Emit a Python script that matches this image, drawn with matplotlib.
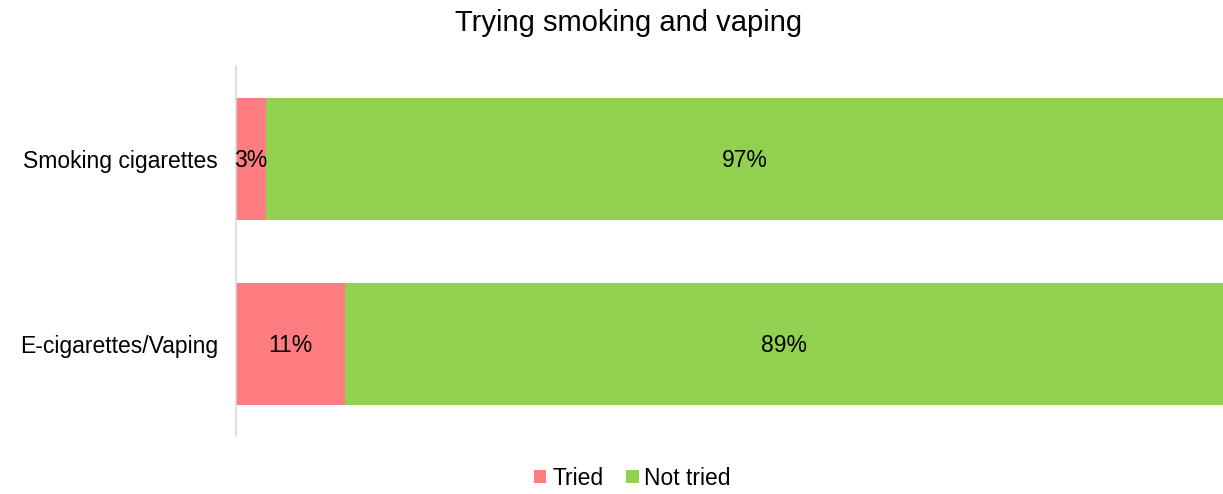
import matplotlib.pyplot as plt

plt.rcParams['font.family'] = ['Liberation Sans', 'DejaVu Sans']

categories = ['Smoking cigarettes', 'E-cigarettes/Vaping']
tried = [3, 11]
not_tried = [97, 89]
series_names = ['Tried', 'Not tried']
colors = ['#FF7C80', '#92D050']

fig = plt.figure(figsize=(12.23, 4.94), dpi=100)
ax = fig.add_axes([0.193, 0.117, 0.807, 0.749])

y = range(len(categories))
b1 = ax.barh(y, tried, height=0.66, color=colors[0], label=series_names[0])
b2 = ax.barh(y, not_tried, left=tried, height=0.66, color=colors[1], label=series_names[1])

for vals, lefts in [(tried, [0, 0]), (not_tried, tried)]:
    for i, v in enumerate(vals):
        ax.text(lefts[i] + v / 2, i + 0.01, f'{v}%', ha='center', va='center', fontsize=16.5)

ax.set_xlim(0, 100)
ax.set_ylim(1.5, -0.5)
ax.set_yticks(list(y))
ax.set_yticklabels(categories, fontsize=16.5)
ax.tick_params(axis='y', length=0, pad=13)
ax.set_xticks([])
for s in ['top', 'right', 'bottom']:
    ax.spines[s].set_visible(False)
ax.spines['left'].set_color('#D9D9D9')
ax.spines['left'].set_linewidth(1.2)

fig.text(0.514, 0.953, 'Trying smoking and vaping', ha='center', va='center', fontsize=21)

fig.legend(handles=[b1, b2], loc='center', bbox_to_anchor=(0.517, 0.032), ncol=2, frameon=False,
           fontsize=16.5, handlelength=0.55, handleheight=0.55, handletextpad=0.25, columnspacing=1.0)

fig.savefig('out.png', dpi=100)
